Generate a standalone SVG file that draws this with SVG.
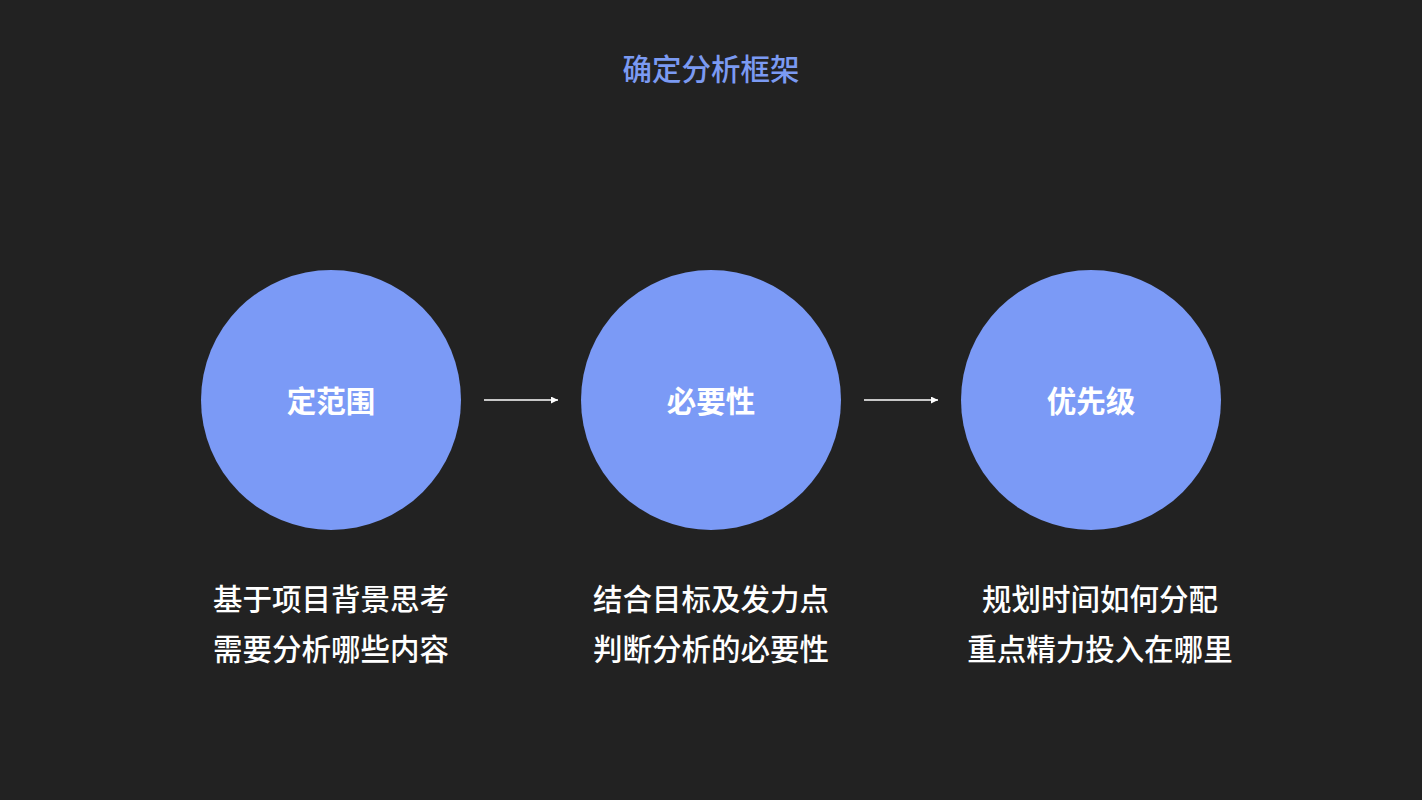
<svg xmlns="http://www.w3.org/2000/svg" width="1422" height="800" viewBox="0 0 1422 800">
<defs>
<style>
.c{fill:#7b9af6}
.t{font-family:"Noto Sans CJK SC","Noto Sans",sans-serif;text-anchor:middle;dominant-baseline:central}
.lbl{fill:#ffffff;font-size:29.5px;font-weight:bold}
.desc{fill:#ffffff;font-size:29.5px;font-weight:500}
.title{fill:#7b9af2;font-size:29.5px;font-weight:500}
.ln{stroke:#ffffff;stroke-width:1.5;fill:none}
</style>
<marker id="ah" viewBox="0 0 10 10" refX="10" refY="5" markerWidth="7" markerHeight="7" markerUnits="userSpaceOnUse" orient="auto"><path d="M0,0 L10,5 L0,10 z" fill="#ffffff"/></marker>
</defs>
<rect width="1422" height="800" fill="#222222"/>
<text class="t title" x="711" y="67">确定分析框架</text>
<g id="node1">
<circle class="c" cx="331" cy="400" r="130"/>
<text class="t lbl" x="331" y="399">定范围</text>
<text class="t desc" x="331" y="597">基于项目背景思考</text>
<text class="t desc" x="331" y="647">需要分析哪些内容</text>
</g>
<g id="node2">
<circle class="c" cx="711" cy="400" r="130"/>
<text class="t lbl" x="711" y="399">必要性</text>
<text class="t desc" x="711" y="597">结合目标及发力点</text>
<text class="t desc" x="711" y="647">判断分析的必要性</text>
</g>
<g id="node3">
<circle class="c" cx="1091" cy="400" r="130"/>
<text class="t lbl" x="1091" y="399">优先级</text>
<text class="t desc" x="1100" y="597">规划时间如何分配</text>
<text class="t desc" x="1100" y="647">重点精力投入在哪里</text>
</g>
<g id="connectors">
<line class="ln" x1="484" y1="400" x2="558" y2="400" marker-end="url(#ah)"/>
<line class="ln" x1="864" y1="400" x2="938" y2="400" marker-end="url(#ah)"/>
</g>
</svg>
